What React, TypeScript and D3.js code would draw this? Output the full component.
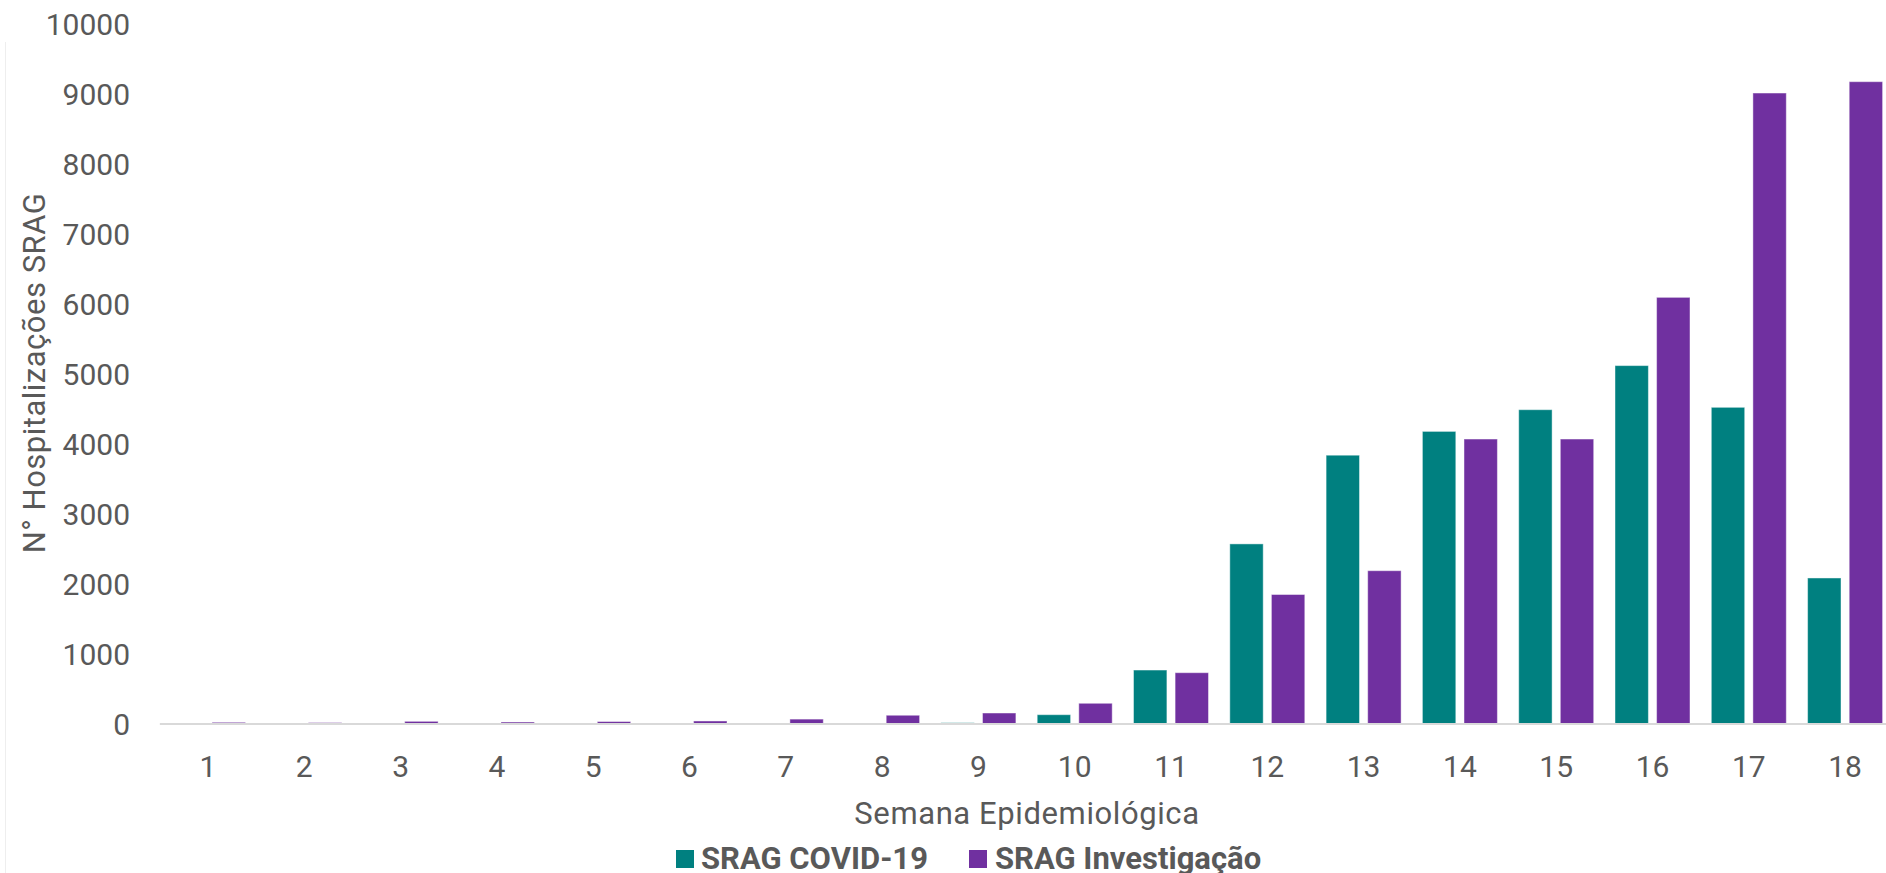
import React from "react";
import * as d3 from "d3";

const weeks = ["1","2","3","4","5","6","7","8","9","10","11","12","13","14","15","16","17","18"];
const covid = [0,0,0,0,0,0,0,8,18,133,771,2573,3840,4180,4490,5120,4524,2086];
const investigacao = [24,20,38,28,35,43,70,125,157,296,733,1850,2190,4071,4071,6095,9014,9176];
const yTicks = [0,1000,2000,3000,4000,5000,6000,7000,8000,9000,10000];
const seriesNames = ["SRAG COVID-19", "SRAG Investigação"];
const seriesColors = ["#008080", "#7030A0"];

const W = 1886, H = 873;
const FONT = "Roboto, 'DejaVu Sans', sans-serif";
const TXT = "#595959";

export default function App() {
  const x = d3.scaleBand<string>().domain(weeks).range([159.85, 1893.25]).padding(0);
  const inner = d3.scaleBand<number>().domain([0, 1])
    .range([-37.5, 37.5]).paddingInner(0.197).paddingOuter(0);
  const y = d3.scaleLinear().domain([0, 10000]).range([724, 24]);
  const data = [covid, investigacao];

  return (
    <svg width={W} height={H} style={{ position: "absolute", left: 0, top: 0, display: "block", background: "#fff" }}
      fontFamily={FONT}>
      <line x1={5.5} x2={5.5} y1={42} y2={H} stroke="#eeeeee" strokeWidth={1} />
      {yTicks.map(t => (
        <text key={t} x={130} y={y(t)} dy="0.36em" textAnchor="end" fontSize={30} fill={TXT}>{t}</text>
      ))}
      <text transform={`translate(45,${373}) rotate(-90)`} textAnchor="middle" fontSize={31} letterSpacing={0.5} fill={TXT}>N° Hospitalizações SRAG</text>
      {data.map((vals, si) => (
        <g key={si}>
          {vals.map((v, i) => {
            const cx = (x(weeks[i]) as number) + x.bandwidth() / 2;
            const bx = cx + (inner(si) as number);
            const top = y(v);
            const h = y(0) - top;
            if (h <= 0) return null;
            return <rect key={i} x={bx} y={top} width={inner.bandwidth()} height={h}
              fill={seriesColors[si]} stroke="#ffffff" strokeOpacity={0.45} strokeWidth={1} />;
          })}
        </g>
      ))}
      <line x1={x.range()[0]} x2={x.range()[1]} y1={724} y2={724} stroke="#d9d9d9" strokeWidth={2} />
      {weeks.map(w => (
        <text key={w} x={(x(w) as number) + x.bandwidth() / 2} y={777} textAnchor="middle" fontSize={30} fill={TXT}>{w}</text>
      ))}
      <text x={1027} y={824} textAnchor="middle" fontSize={31} letterSpacing={0.6} fill={TXT}>Semana Epidemiológica</text>
      <g>
        <rect x={676} y={850} width={18} height={18} fill={seriesColors[0]} />
        <text x={701} y={869} fontSize={31} fontWeight="bold" fill={TXT}>{seriesNames[0]}</text>
        <rect x={969} y={850} width={18} height={18} fill={seriesColors[1]} />
        <text x={995} y={869} fontSize={31} fontWeight="bold" fill={TXT}>{seriesNames[1]}</text>
      </g>
    </svg>
  );
}
